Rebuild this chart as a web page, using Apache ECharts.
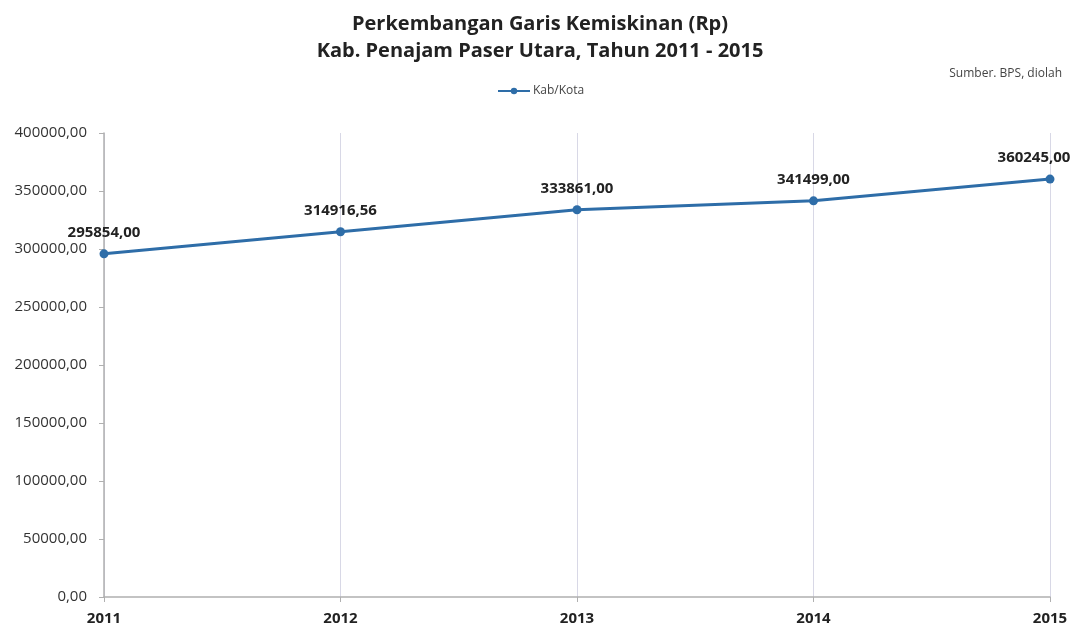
<!DOCTYPE html>
<html>
<head>
<meta charset="utf-8">
<script src="https://cdn.jsdelivr.net/npm/echarts@6/dist/echarts.min.js"></script>
<style>
  html, body { margin: 0; padding: 0; background: #fff; }
  #chart { width: 1076px; height: 630px; }
</style>
</head>
<body>
<div id="chart"></div>
<script>
const tahun = ['2011', '2012', '2013', '2014', '2015'];
const garisKemiskinan = [295854.00, 314916.56, 333861.00, 341499.00, 360245.00];
const namaSeri = 'Kab/Kota';

const fmt = v => Number(v).toFixed(2).replace('.', ',');
const font = '"Open Sans", "Liberation Sans", sans-serif';

// titik terakhir: label digeser ke kiri supaya tidak terpotong
const dataSeri = garisKemiskinan.map((v, i) => (
    i === garisKemiskinan.length - 1 ? { value: v, label: { offset: [-16, 0] } } : v
));

const chart = echarts.init(document.getElementById('chart'));
chart.setOption({
    backgroundColor: '#ffffff',
    textStyle: { fontFamily: font },
    title: [{
        text: 'Perkembangan Garis Kemiskinan (Rp)\nKab. Penajam Paser Utara, Tahun 2011 - 2015',
        left: 535,
        textAlign: 'center',
        top: 6,
        textStyle: { fontSize: 20, fontWeight: 'bold', color: '#222', lineHeight: 27, fontFamily: font }
    }, {
        text: 'Sumber. BPS, diolah',
        right: 9,
        top: 63,
        textStyle: { fontSize: 12, fontWeight: 'normal', color: '#444', fontFamily: font }
    }],
    legend: {
        data: [namaSeri],
        left: 492,
        top: 80,
        itemWidth: 32,
        itemHeight: 8,
        itemGap: 4,
        textStyle: { fontSize: 12, color: '#444', padding: [0, 0, 0, -2] }
    },
    grid: { left: 104, right: 26, top: 133, bottom: 33 },
    xAxis: {
        type: 'category',
        data: tahun,
        boundaryGap: false,
        axisLine: { lineStyle: { color: '#b0b0b0', width: 1.5 } },
        axisTick: { show: true, alignWithLabel: true, length: 5, lineStyle: { color: '#b0b0b0' } },
        axisLabel: { color: '#222', fontWeight: 'bold', fontSize: 15, margin: 14 },
        splitLine: { show: true, lineStyle: { color: '#d8d8e6', width: 1 } }
    },
    yAxis: {
        type: 'value',
        min: 0,
        max: 400000,
        interval: 50000,
        axisLine: { show: true, lineStyle: { color: '#b0b0b0', width: 1.5 } },
        axisTick: { show: true, length: 5, lineStyle: { color: '#b0b0b0' } },
        axisLabel: { color: '#333', fontSize: 15, margin: 17, formatter: fmt },
        splitLine: { show: false }
    },
    series: [{
        name: namaSeri,
        type: 'line',
        data: dataSeri,
        symbol: 'circle',
        symbolSize: 9,
        itemStyle: { color: '#2E6DA8' },
        lineStyle: { color: '#2E6DA8', width: 3 },
        label: {
            show: true,
            position: 'top',
            distance: 9,
            color: '#222',
            fontWeight: 'bold',
            fontSize: 15,
            formatter: p => fmt(p.value)
        }
    }]
});
</script>
</body>
</html>
